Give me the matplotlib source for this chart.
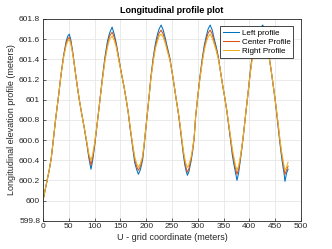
import matplotlib
matplotlib.use("Agg")
import matplotlib.pyplot as plt

x = [0, 4, 8, 12, 16, 20, 25, 30, 35, 40, 45, 48, 51,
     54, 58, 62, 66, 70, 75, 80, 85, 89, 93,
     96, 100, 105, 110, 115, 120, 125, 129, 134,
     138, 142, 147, 152, 157, 161, 165, 169, 172, 175, 178, 182, 185,
     189, 193, 196, 199, 203, 206, 209, 214, 218, 222, 225, 229,
     233, 237, 241, 246, 250, 254, 258, 262, 265, 269, 272, 275, 278, 280,
     283, 287, 290, 293, 296, 300, 304, 309, 313, 317, 320, 324,
     328, 332, 336, 340, 344, 348, 352, 356, 360, 364, 367, 370, 373, 376,
     379, 382, 385, 388, 391, 394, 398, 402, 406, 411, 416, 421, 426,
     430, 434, 438, 442, 446, 450, 453, 456, 459, 462, 465, 467, 469,
     472, 475]

center = [600.00, 600.10, 600.20, 600.30, 600.42, 600.60, 600.83, 601.03, 601.25, 601.43, 601.56, 601.60, 601.62,
          601.57, 601.45, 601.30, 601.15, 601.01, 600.86, 600.72, 600.57, 600.44, 600.35,
          600.42, 600.55, 600.76, 600.98, 601.20, 601.40, 601.55, 601.63, 601.67,
          601.62, 601.54, 601.40, 601.26, 601.13, 601.01, 600.88, 600.72, 600.61, 600.50, 600.40, 600.33, 600.30,
          600.34, 600.42, 600.55, 600.70, 600.90, 601.05, 601.21, 601.41, 601.53, 601.61, 601.66, 601.69,
          601.65, 601.58, 601.50, 601.40, 601.28, 601.15, 601.01, 600.88, 600.77, 600.60, 600.48, 600.38, 600.31, 600.28,
          600.32, 600.41, 600.50, 600.62, 600.84, 601.03, 601.21, 601.40, 601.52, 601.61, 601.66, 601.69,
          601.65, 601.57, 601.50, 601.41, 601.28, 601.15, 601.03, 600.90, 600.75, 600.60, 600.48, 600.40, 600.32, 600.26,
          600.31, 600.40, 600.51, 600.63, 600.77, 600.91, 601.09, 601.28, 601.44, 601.56, 601.63, 601.68, 601.70,
          601.66, 601.55, 601.43, 601.30, 601.15, 601.00, 600.87, 600.74, 600.60, 600.48, 600.38, 600.32, 600.26,
          600.30, 600.34]

left = [600.00, 600.10, 600.20, 600.30, 600.42, 600.60, 600.83, 601.03, 601.25, 601.44, 601.58, 601.63, 601.65,
        601.59, 601.46, 601.30, 601.15, 601.01, 600.86, 600.72, 600.56, 600.42, 600.31,
        600.39, 600.54, 600.76, 600.98, 601.21, 601.42, 601.58, 601.66, 601.72,
        601.65, 601.56, 601.41, 601.26, 601.13, 601.01, 600.88, 600.71, 600.60, 600.48, 600.37, 600.30, 600.26,
        600.31, 600.40, 600.54, 600.70, 600.90, 601.05, 601.22, 601.43, 601.56, 601.65, 601.70, 601.74,
        601.69, 601.61, 601.52, 601.41, 601.28, 601.15, 601.01, 600.88, 600.76, 600.59, 600.46, 600.35, 600.28, 600.25,
        600.29, 600.39, 600.49, 600.62, 600.84, 601.03, 601.22, 601.42, 601.55, 601.64, 601.70, 601.74,
        601.69, 601.60, 601.52, 601.42, 601.28, 601.15, 601.03, 600.90, 600.74, 600.58, 600.45, 600.36, 600.28, 600.20,
        600.27, 600.38, 600.50, 600.63, 600.77, 600.91, 601.09, 601.29, 601.46, 601.58, 601.66, 601.71, 601.74,
        601.69, 601.57, 601.44, 601.30, 601.15, 601.00, 600.86, 600.72, 600.58, 600.45, 600.34, 600.28, 600.19,
        600.27, 600.31]

right = [600.00, 600.10, 600.20, 600.30, 600.42, 600.60, 600.83, 601.03, 601.25, 601.42, 601.54, 601.58, 601.60,
         601.55, 601.44, 601.30, 601.15, 601.01, 600.86, 600.72, 600.58, 600.46, 600.40,
         600.45, 600.57, 600.76, 600.98, 601.19, 601.38, 601.52, 601.60, 601.63,
         601.59, 601.52, 601.39, 601.26, 601.13, 601.01, 600.88, 600.73, 600.62, 600.52, 600.43, 600.36, 600.33,
         600.37, 600.44, 600.56, 600.70, 600.90, 601.05, 601.20, 601.39, 601.51, 601.58, 601.63, 601.65,
         601.62, 601.56, 601.48, 601.39, 601.28, 601.15, 601.01, 600.88, 600.78, 600.62, 600.50, 600.41, 600.35, 600.33,
         600.36, 600.43, 600.52, 600.63, 600.84, 601.03, 601.20, 601.38, 601.50, 601.58, 601.62, 601.65,
         601.61, 601.55, 601.48, 601.40, 601.28, 601.15, 601.03, 600.90, 600.76, 600.62, 600.51, 600.43, 600.35, 600.30,
         600.34, 600.42, 600.52, 600.63, 600.77, 600.91, 601.09, 601.27, 601.42, 601.54, 601.60, 601.65, 601.66,
         601.63, 601.53, 601.42, 601.30, 601.15, 601.00, 600.88, 600.76, 600.62, 600.50, 600.41, 600.35, 600.30,
         600.33, 600.38]

xticks = [0, 50, 100, 150, 200, 250, 300, 350, 400, 450, 500]
yticks = [599.8, 600.0, 600.2, 600.4, 600.6, 600.8, 601.0, 601.2, 601.4, 601.6, 601.8]
ytick_labels = ["599.8", "600", "600.2", "600.4", "600.6", "600.8", "601", "601.2", "601.4", "601.6", "601.8"]

plt.rcParams['font.family'] = ['Liberation Sans', 'DejaVu Sans']

fig = plt.figure(figsize=(3.32, 2.49), dpi=100)
ax = fig.add_axes([0.1295, 0.1137, 0.777, 0.81])

ax.plot(x, left, color='#0072BD', lw=0.75, label='Left profile')
ax.plot(x, center, color='#D95319', lw=0.75, label='Center Profile')
ax.plot(x, right, color='#EDB120', lw=0.75, label='Right Profile')

ax.set_xlim(0, 500)
ax.set_ylim(599.8, 601.8)
ax.set_xticks(xticks)
ax.set_yticks(yticks)
ax.set_yticklabels(ytick_labels)
ax.grid(True, color='#e6e6e6', lw=0.6)
ax.set_axisbelow(True)
ax.tick_params(direction='in', length=2, width=0.5, labelsize=6, colors='#262626', pad=2)
for s in ax.spines.values():
    s.set_color('#262626')
    s.set_linewidth(0.6)

ax.set_xlabel('U - grid coordinate (meters)', fontsize=6.5, color='#262626', labelpad=2)
ax.set_ylabel('Longitudinal elevation profile (meters)', fontsize=6.5, color='#262626', labelpad=2)
ax.set_title('Longitudinal profile plot', fontsize=6.5, fontweight='bold', pad=4)

leg = ax.legend(loc='upper right', fontsize=5.8, fancybox=False, framealpha=1,
                edgecolor='#262626', borderpad=0.35, labelspacing=0.2, handlelength=2.0,
                handletextpad=0.3, borderaxespad=0, bbox_to_anchor=(0.97, 0.965))
leg.get_frame().set_linewidth(0.6)

fig.savefig('out.png', dpi=100)
